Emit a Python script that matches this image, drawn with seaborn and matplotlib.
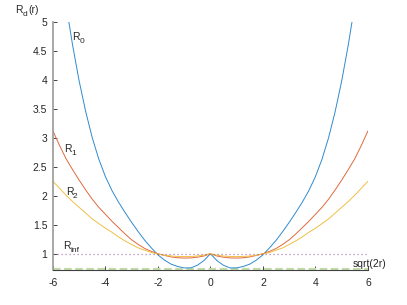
import numpy as np
import pandas as pd
import matplotlib
matplotlib.use("Agg")
import matplotlib.pyplot as plt
import seaborn as sns

# x grid: sqrt(2r), from -6 to 6 in steps of 0.25
r_axis = np.linspace(-6, 6, 49)

# values
R0 = [7.00, 6.10, 5.30, 4.60, 3.98, 3.45, 3.00, 2.63, 2.33, 2.09, 1.89, 1.71,
      1.54, 1.38, 1.23, 1.10, 0.98, 0.89, 0.82, 0.78, 0.755, 0.755, 0.80, 0.88,
      1.00,
      0.88, 0.80, 0.755, 0.755, 0.78, 0.82, 0.89, 0.98, 1.10, 1.23, 1.38, 1.54,
      1.71, 1.89, 2.09, 2.33, 2.63, 3.00, 3.45, 3.98, 4.60, 5.30, 6.10, 7.00]
R1 = [3.12, 2.87, 2.64, 2.45, 2.27, 2.10, 1.94, 1.80, 1.68, 1.56, 1.45, 1.34,
      1.24, 1.16, 1.09, 1.04, 1.00, 0.97, 0.945, 0.93, 0.925, 0.927, 0.94, 0.96,
      1.00,
      0.96, 0.94, 0.927, 0.925, 0.93, 0.945, 0.97, 1.00, 1.04, 1.09, 1.16, 1.24,
      1.34, 1.45, 1.56, 1.68, 1.80, 1.94, 2.10, 2.27, 2.45, 2.64, 2.87, 3.12]
R2 = [2.25, 2.13, 2.01, 1.90, 1.80, 1.70, 1.60, 1.52, 1.44, 1.37, 1.29, 1.22,
      1.16, 1.10, 1.06, 1.02, 0.995, 0.975, 0.96, 0.953, 0.95, 0.952, 0.96, 0.975,
      1.00,
      0.975, 0.96, 0.952, 0.95, 0.953, 0.96, 0.975, 0.995, 1.02, 1.06, 1.10, 1.16,
      1.22, 1.29, 1.37, 1.44, 1.52, 1.60, 1.70, 1.80, 1.90, 2.01, 2.13, 2.25]
R_inf = 1.0
sqrt_level = 0.73

x_ticks = [-6, -4, -2, 0, 2, 4, 6]
y_ticks = [1, 1.5, 2, 2.5, 3, 3.5, 4, 4.5, 5]

# curve labels: (x, y, subscript)
label_x = [-5.26, -5.59, -5.51, -5.61]
label_y = [4.74, 2.80, 2.07, 1.13]
label_sub = ["0", "1", "2", "inf"]

df = pd.DataFrame({"x": r_axis, "R0": R0, "R1": R1, "R2": R2})

sns.set_style("ticks")
plt.rcParams["font.family"] = ["Liberation Sans", "DejaVu Sans"]
plt.rcParams["axes.unicode_minus"] = False

fig = plt.figure(figsize=(4.07, 3.05), dpi=100)
ax = fig.add_axes([0.130, 0.115, 0.774, 0.813])

sns.lineplot(data=df, x="x", y="R0", ax=ax, color="#2f8ad0", lw=0.7)
sns.lineplot(data=df, x="x", y="R1", ax=ax, color="#e06a3c", lw=0.7)
sns.lineplot(data=df, x="x", y="R2", ax=ax, color="#f0bf45", lw=0.7)
ax.plot([-6, 6], [R_inf, R_inf], color="#7E2F8E", alpha=0.6, lw=0.9,
        dashes=(1, 2.2))
ax.plot([-6, 6], [sqrt_level, sqrt_level], color="#c2dba8",
        lw=1.6, dashes=(3.4, 1.6), zorder=1.5)

ax.set_xlim(-6, 6)
ax.set_ylim(0.72, 5)
ax.set_xticks(x_ticks)
ax.set_yticks(y_ticks)
ax.set_xticklabels([f"{t:g}" for t in x_ticks])
ax.set_yticklabels([f"{t:g}" for t in y_ticks])
ax.set_xlabel("")
ax.set_ylabel("")
ax.tick_params(direction="in", length=3, width=0.6, labelsize=7.5,
               colors="#262626")
ax.tick_params(axis="x", pad=6)
ax.tick_params(axis="y", pad=4)

sns.despine(ax=ax)
ax.spines["left"].set_color("#9a9a9a")
ax.spines["left"].set_linewidth(1.2)
ax.spines["bottom"].set_color("#404040")
ax.spines["bottom"].set_linewidth(0.8)

fs = 7.5
txt = "#262626"
for lx, ly, sub in zip(label_x, label_y, label_sub):
    ax.text(lx, ly, "R", fontsize=fs, ha="left", va="center", color=txt)
    ax.annotate(sub, xy=(lx, ly), xytext=(5.2, -3.2), textcoords="offset points",
                fontsize=6, ha="left", va="center", color=txt)

ax.text(5.42, 0.82, "sqrt(2r)", fontsize=fs, ha="left", va="center", color=txt)

# y label placed above the axis, Octave style
ax.text(-0.12, 1.05, "R", fontsize=fs, ha="left", va="center", color=txt,
        transform=ax.transAxes, clip_on=False)
ax.annotate("d", xy=(-0.12, 1.05), xycoords="axes fraction", xytext=(5.2, -3.2),
            textcoords="offset points", fontsize=6, ha="left", va="center",
            color=txt)
ax.annotate("(r)", xy=(-0.12, 1.05), xycoords="axes fraction", xytext=(9.5, 0),
            textcoords="offset points", fontsize=fs, ha="left", va="center",
            color=txt)

fig.savefig("out.png", dpi=100)
